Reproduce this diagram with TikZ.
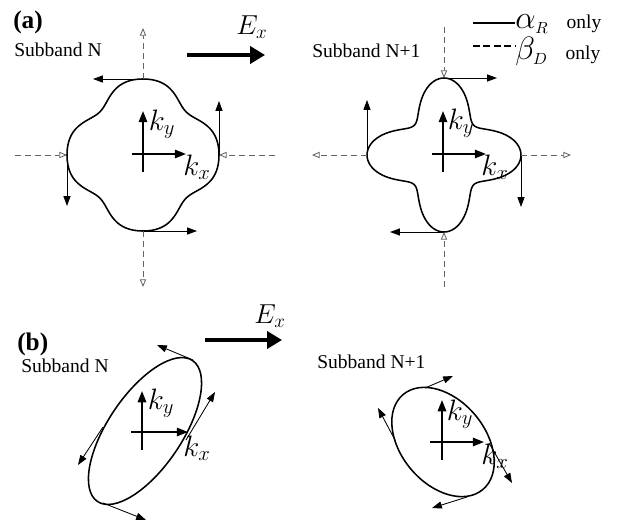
\RequirePackage{fix-cm}
\documentclass[tikz,border=0pt]{standalone}
\usepackage{fontspec}
\setmainfont{Liberation Serif}
\usetikzlibrary{arrows.meta}
\definecolor{grisdressel}{RGB}{100,100,100}
\newcommand{\letragrande}{\fontsize{23}{25}\selectfont}

\begin{document}
\begin{tikzpicture}[x=0.25mm, y=-0.25mm,
  curva/.style={line width=1.1pt},
  eje/.style={line width=1.3pt, -{Triangle[length=8pt,width=6pt]}},
  rashba/.style={line width=0.6pt, -{Triangle[length=7pt,width=5pt]}},
  dressel/.style={draw=grisdressel, line width=0.6pt,
                  dash pattern=on 4.3pt off 2.8pt,
                  -{Triangle[open,length=5.5pt,width=4.5pt]}},
  campo/.style={line width=2.5pt, -{Triangle[length=10.5pt,width=12pt]}},
  panel/.style={inner sep=0pt, anchor=base west,
                font=\fontsize{18}{20}\selectfont\bfseries},
  etiq/.style={inner sep=0pt, anchor=base west,
               font=\fontsize{13.9}{16}\selectfont},
  vect/.style={inner sep=0pt, font=\fontsize{21}{23}\selectfont},
  campoet/.style={inner sep=0pt, font=\fontsize{19.5}{21}\selectfont},
  leyenda/.style={inner sep=0pt, anchor=base west,
                  font=\fontsize{13.9}{16}\selectfont}]
  \useasboundingbox (0,0) rectangle (618,522);

  % ---------- (a) ----------
  \node[panel] (letA) at (13,29) {(a)};
  \node[etiq] (subA1) at (14,57) {Subband N};
  \node[etiq] (subA2) at (312,58) {Subband N+1};
  \coordinate (EaIni) at (187,55);
  \coordinate (EaFin) at (265,55);
  \draw[campo] (EaIni) -- (EaFin);
  \node[campoet] (Ea) at (252,27) {$E_x$};

  % leyenda
  \coordinate (leyR0) at (473,23);
  \coordinate (leyR1) at (515,23);
  \coordinate (leyD0) at (473,46);
  \coordinate (leyD1) at (515,46);
  \draw[line width=1.4pt] (leyR0) -- (leyR1);
  \draw[line width=1.4pt, dash pattern=on 5pt off 2.4pt] (leyD0) -- (leyD1);
  \node[leyenda] (leyR) at (515,29)
    {{\letragrande$\alpha_{\scriptscriptstyle R}$}\hspace{4.5mm}only};
  \node[leyenda] (leyD) at (515,60)
    {{\letragrande$\beta_{\scriptscriptstyle D}$}\hspace{4.5mm}only};

  % subbanda N
  \begin{scope}[shift={(143,155)}]
    \draw[curva] plot[domain=0:360, samples=181, variable=\t]
      (\t:{70+7.5*cos(4*\t)-1.5*cos(8*\t)}) -- cycle;
    \coordinate (a1n) at (0,-76);
    \coordinate (a1s) at (0,76);
    \coordinate (a1w) at (-76,0);
    \coordinate (a1e) at (76,0);
    \coordinate (a1nR) at (-50,-76);
    \coordinate (a1sR) at (54,76);
    \coordinate (a1wR) at (-76,51);
    \coordinate (a1eR) at (76,-54);
    \coordinate (a1nD) at (0,-127);
    \coordinate (a1sD) at (0,132);
    \coordinate (a1wD) at (-128,0);
    \coordinate (a1eD) at (132,0);
    \draw[rashba] (a1n) -- (a1nR);
    \draw[rashba] (a1s) -- (a1sR);
    \draw[rashba] (a1w) -- (a1wR);
    \draw[rashba] (a1e) -- (a1eR);
    \draw[dressel] (a1n) -- (a1nD);
    \draw[dressel] (a1s) -- (a1sD);
    \draw[dressel] (a1wD) -- (a1w);
    \draw[dressel] (a1eD) -- (a1e);
    \coordinate (a1y0) at (0,17);
    \coordinate (a1y1) at (0,-44);
    \coordinate (a1x0) at (-11,-1);
    \coordinate (a1x1) at (43,-1);
    \draw[eje] (a1y0) -- (a1y1);
    \draw[eje] (a1x0) -- (a1x1);
    \node[vect] (a1ky) at (19,-31) {$k_y$};
    \node[vect] (a1kx) at (54,12) {$k_x$};
  \end{scope}

  % subbanda N+1
  \begin{scope}[shift={(444,155)}]
    \draw[curva] plot[domain=0:360, samples=181, variable=\t]
      (\t:{59.5+17.5*cos(4*\t)}) -- cycle;
    \coordinate (a2n) at (0,-77);
    \coordinate (a2s) at (0,77);
    \coordinate (a2w) at (-77,0);
    \coordinate (a2e) at (77,0);
    \coordinate (a2nR) at (53,-77);
    \coordinate (a2sR) at (-54,77);
    \coordinate (a2wR) at (-77,-55);
    \coordinate (a2eR) at (77,52);
    \coordinate (a2nD) at (0,-128);
    \coordinate (a2sD) at (0,132);
    \coordinate (a2wD) at (-132,0);
    \coordinate (a2eD) at (127,0);
    \draw[rashba] (a2n) -- (a2nR);
    \draw[rashba] (a2s) -- (a2sR);
    \draw[rashba] (a2w) -- (a2wR);
    \draw[rashba] (a2e) -- (a2eR);
    \draw[dressel] (a2nD) -- (a2n);
    \draw[dressel] (a2sD) -- (a2s);
    \draw[dressel] (a2w) -- (a2wD);
    \draw[dressel] (a2e) -- (a2eD);
    \coordinate (a2y0) at (-1,17);
    \coordinate (a2y1) at (-1,-44);
    \coordinate (a2x0) at (-12,-1);
    \coordinate (a2x1) at (42,-1);
    \draw[eje] (a2y0) -- (a2y1);
    \draw[eje] (a2x0) -- (a2x1);
    \node[vect] (a2ky) at (17,-32) {$k_y$};
    \node[vect] (a2kx) at (51,12) {$k_x$};
  \end{scope}

  % ---------- (b) ----------
  \node[panel] (letB) at (17,350) {(b)};
  \node[etiq] (subB1) at (21,372) {Subband N};
  \node[etiq] (subB2) at (317,368) {Subband N+1};
  \coordinate (EbIni) at (205,340);
  \coordinate (EbFin) at (282,340);
  \draw[campo] (EbIni) -- (EbFin);
  \node[campoet] (Eb) at (270,316) {$E_x$};

  % subbanda N
  \begin{scope}[shift={(145,431)}]
    \draw[curva, rotate=56] (0,0) ellipse [x radius=85, y radius=37];
    \coordinate (b1p1) at (48,-71);
    \coordinate (b1q1) at (12,-86);
    \coordinate (b1p2) at (41,9);
    \coordinate (b1q2) at (70,-39);
    \coordinate (b1p3) at (-42,-4);
    \coordinate (b1q3) at (-67,34);
    \coordinate (b1p4) at (-42,72);
    \coordinate (b1q4) at (1,89);
    \draw[rashba] (b1p1) -- (b1q1);
    \draw[rashba] (b1p2) -- (b1q2);
    \draw[rashba] (b1p3) -- (b1q3);
    \draw[rashba] (b1p4) -- (b1q4);
    \coordinate (b1y0) at (-3,19);
    \coordinate (b1y1) at (-3,-40);
    \coordinate (b1x0) at (-14,1);
    \coordinate (b1x1) at (43,1);
    \draw[eje] (b1y0) -- (b1y1);
    \draw[eje] (b1x0) -- (b1x1);
    \node[vect] (b1ky) at (16,-28) {$k_y$};
    \node[vect] (b1kx) at (52,17) {$k_x$};
  \end{scope}

  % subbanda N+1
  \begin{scope}[shift={(443,442)}]
    \draw[curva, rotate=-50] (0,0) ellipse [x radius=62, y radius=42];
    \coordinate (b2p1) at (-18,-54);
    \coordinate (b2q1) at (10,-66);
    \coordinate (b2p2) at (-48,-2);
    \coordinate (b2q2) at (-65,-34);
    \coordinate (b2p3) at (46,1);
    \coordinate (b2q3) at (69,41);
    \coordinate (b2p4) at (24,55);
    \coordinate (b2q4) at (-11,66);
    \draw[rashba] (b2p1) -- (b2q1);
    \draw[rashba] (b2p2) -- (b2q2);
    \draw[rashba] (b2p3) -- (b2q3);
    \draw[rashba] (b2p4) -- (b2q4);
    \coordinate (b2y0) at (-1,18);
    \coordinate (b2y1) at (-1,-42);
    \coordinate (b2x0) at (-13,0);
    \coordinate (b2x1) at (41,0);
    \draw[eje] (b2y0) -- (b2y1);
    \draw[eje] (b2x0) -- (b2x1);
    \node[vect] (b2ky) at (17,-28) {$k_y$};
    \node[vect] (b2kx) at (52,14) {$k_x$};
  \end{scope}
\end{tikzpicture}
\end{document}
